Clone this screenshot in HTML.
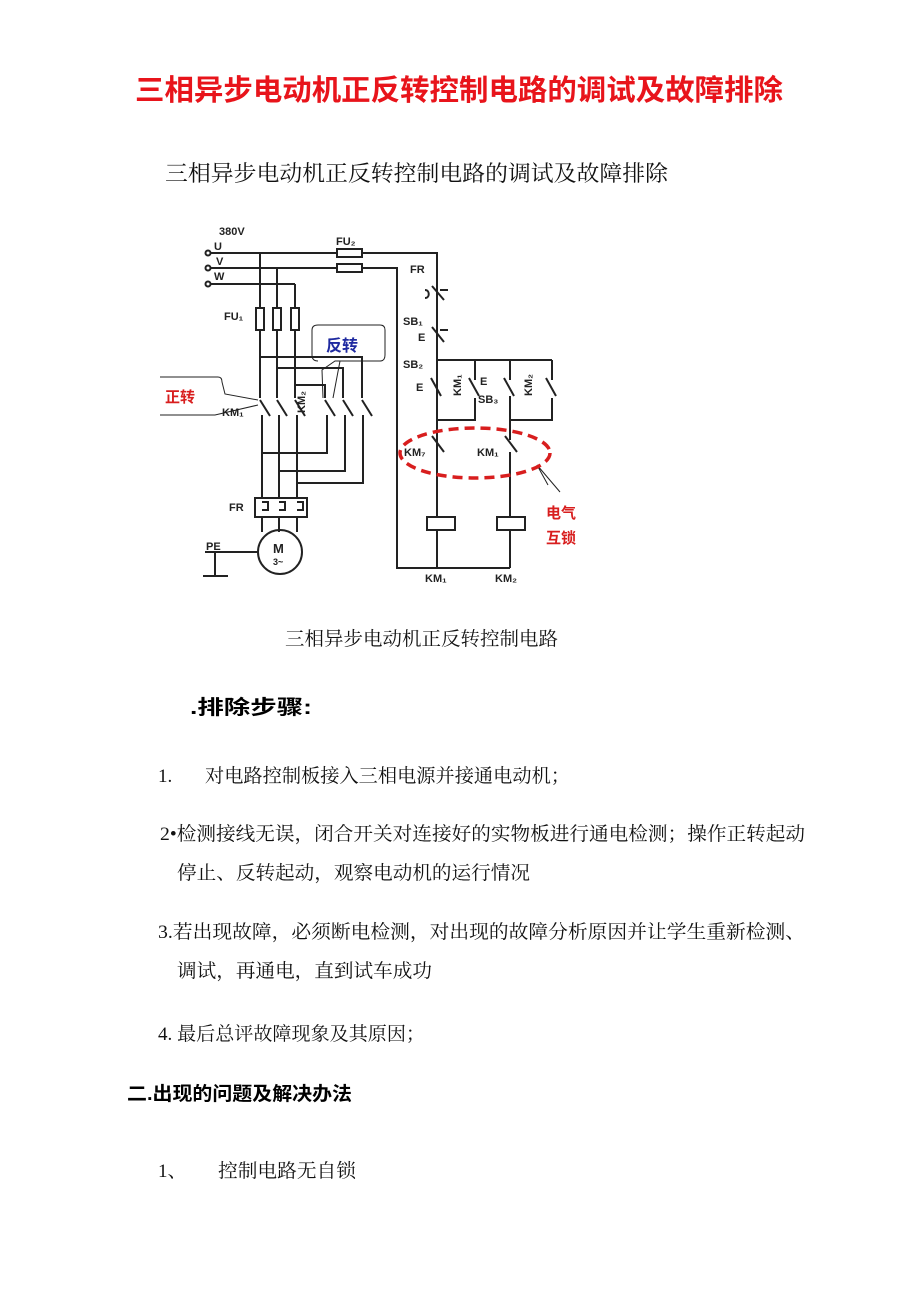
<!DOCTYPE html>
<html><head><meta charset="utf-8"><style>
html,body{margin:0;padding:0;background:#fff;}
svg{display:block;}
.t{font-family:"Liberation Serif","Noto Serif CJK SC","Noto Sans CJK SC",serif;fill:#111;}
.s{font-family:"Liberation Sans","Noto Sans CJK SC",sans-serif;}
</style></head><body>
<svg width="920" height="1301" viewBox="0 0 920 1301" xmlns="http://www.w3.org/2000/svg">
<text x="135" y="100" class="s" font-size="29" font-weight="bold" fill="#e8141b" textLength="648" lengthAdjust="spacingAndGlyphs">三相异步电动机正反转控制电路的调试及故障排除</text>
<text x="165" y="181" class="t" font-size="22" textLength="503" lengthAdjust="spacingAndGlyphs">三相异步电动机正反转控制电路的调试及故障排除</text>

<g stroke="#222" stroke-width="2" fill="none">
<circle cx="208" cy="253" r="2.5"/><circle cx="208" cy="268" r="2.5"/><circle cx="208" cy="284" r="2.5"/>
<path d="M211 253H437V540"/>
<path d="M211 268H397V568H510"/>
<path d="M211 284H295"/>
<rect x="337" y="249" width="25" height="8" fill="#fff"/>
<rect x="337" y="264" width="25" height="8" fill="#fff"/>
<path d="M260 253V398M277 268V398M295 284V398"/>
<rect x="256" y="308" width="8" height="22" fill="#fff"/>
<rect x="273" y="308" width="8" height="22" fill="#fff"/>
<rect x="291" y="308" width="8" height="22" fill="#fff"/>
<path d="M260 400L270 416M277 400L287 416M295 400L305 416"/>
<path d="M262 415V498M279 415V498M297 415V498"/>
<path d="M260 357H362V398M277 368H343V398M295 385H325V398"/>
<path d="M325 400L335 416M343 400L353 416M362 400L372 416"/>
<path d="M327 415V453H262M345 415V471H279M363 415V483H297"/>
<rect x="255" y="498" width="52" height="19"/>
<path d="M262 502h6v8h-6M279 502h6v8h-6M297 502h6v8h-6"/>
<path d="M262 517V532M279 517V532M297 517V532"/>
<circle cx="280" cy="552" r="22"/>
<path d="M205 552H258M215 552V575M203 576H228"/>
<path d="M437 253V290M437 300V330M437 340V360"/>
<path d="M432 286L444 300M440 290H448M432 327L444 342M440 330H448"/>
<path d="M425 290c5 0 5 8 0 8"/>
<path d="M437 360H552M475 360V380M510 360V380M552 360V380"/>
<path d="M437 360V380M431 378L441 396M437 396V420H475V398M469 378L479 396"/>
<path d="M510 396V420H552V398M504 378L514 396M546 378L556 396"/>
<path d="M437 420V440M432 436L444 452M437 452V517M437 530V568"/>
<path d="M510 420V440M505 436L517 452M510 452V517M510 530V568"/>
<path d="M397 568H437"/>
<rect x="427" y="517" width="28" height="13" fill="#fff"/>
<rect x="497" y="517" width="28" height="13" fill="#fff"/>
<path d="M160 377H218Q222 377 222 382L225 394L258 400M160 415H215L258 405" stroke-width="1"/>
<path d="M318 325H380Q385 325 385 330V355Q385 361 380 361H335L322 370L323 398M318 325Q312 325 312 330V355Q312 361 318 361M340 361L333 398" stroke-width="1"/>
<path d="M537 465L548 485M537 465L560 492" stroke-width="1"/>
</g>
<ellipse cx="475" cy="453" rx="75" ry="25" fill="none" stroke="#d81e1e" stroke-width="3.5" stroke-dasharray="10,6"/>
<g class="s" font-size="11" font-weight="bold" fill="#222">
<text x="219" y="235">380V</text>
<text x="214" y="250">U</text><text x="216" y="265">V</text><text x="214" y="280">W</text>
<text x="336" y="245">FU₂</text>
<text x="410" y="273">FR</text>
<text x="403" y="325">SB₁</text><text x="418" y="341">E</text>
<text x="403" y="368">SB₂</text><text x="416" y="391">E</text>
<text x="480" y="385">E</text><text x="478" y="403">SB₃</text>
<text x="224" y="320">FU₁</text>
<text x="222" y="416">KM₁</text>
<text x="229" y="511">FR</text>
<text x="206" y="550">PE</text>
<text x="273" y="553" font-size="13">M</text><text x="273" y="565" font-size="9">3~</text>
<text x="404" y="456">KM₇</text><text x="477" y="456">KM₁</text>
<text x="425" y="582">KM₁</text><text x="495" y="582">KM₂</text>
<text transform="translate(305,413) rotate(-90)">KM₂</text>
<text transform="translate(461,396) rotate(-90)">KM₁</text>
<text transform="translate(532,396) rotate(-90)">KM₂</text>
</g>
<text x="165" y="402" class="s" font-size="15" font-weight="bold" fill="#d81e1e">正转</text>
<text x="326" y="351" class="s" font-size="16" font-weight="bold" fill="#1f2aa0">反转</text>
<text x="546" y="518" class="s" font-size="15" font-weight="bold" fill="#d81e1e">电气</text>
<text x="546" y="543" class="s" font-size="15" font-weight="bold" fill="#d81e1e">互锁</text>

<text x="285" y="645" class="t" font-size="19" textLength="273" lengthAdjust="spacingAndGlyphs">三相异步电动机正反转控制电路</text>
<text x="190" y="714" class="s" font-size="20" font-weight="bold" textLength="122" lengthAdjust="spacingAndGlyphs">.排除步骤:</text>
<text x="158" y="782" class="t" font-size="19">1.</text>
<text x="205" y="782" class="t" font-size="19" textLength="365" lengthAdjust="spacingAndGlyphs">对电路控制板接入三相电源并接通电动机；</text>
<text x="160" y="840" class="t" font-size="19" textLength="645" lengthAdjust="spacingAndGlyphs">2•检测接线无误，闭合开关对连接好的实物板进行通电检测；操作正转起动</text>
<text x="177" y="879" class="t" font-size="19" textLength="353" lengthAdjust="spacingAndGlyphs">停止、反转起动，观察电动机的运行情况</text>
<text x="158" y="938" class="t" font-size="19" textLength="647" lengthAdjust="spacingAndGlyphs">3.若出现故障，必须断电检测，对出现的故障分析原因并让学生重新检测、</text>
<text x="177" y="977" class="t" font-size="19" textLength="255" lengthAdjust="spacingAndGlyphs">调试，再通电，直到试车成功</text>
<text x="158" y="1040" class="t" font-size="19" textLength="267" lengthAdjust="spacingAndGlyphs">4. 最后总评故障现象及其原因；</text>
<text x="127" y="1100" class="s" font-size="19" font-weight="bold" textLength="225" lengthAdjust="spacingAndGlyphs">二.出现的问题及解决办法</text>
<text x="158" y="1177" class="t" font-size="19">1、</text>
<text x="218" y="1177" class="t" font-size="19" textLength="138" lengthAdjust="spacingAndGlyphs">控制电路无自锁</text>
</svg>
</body></html>
